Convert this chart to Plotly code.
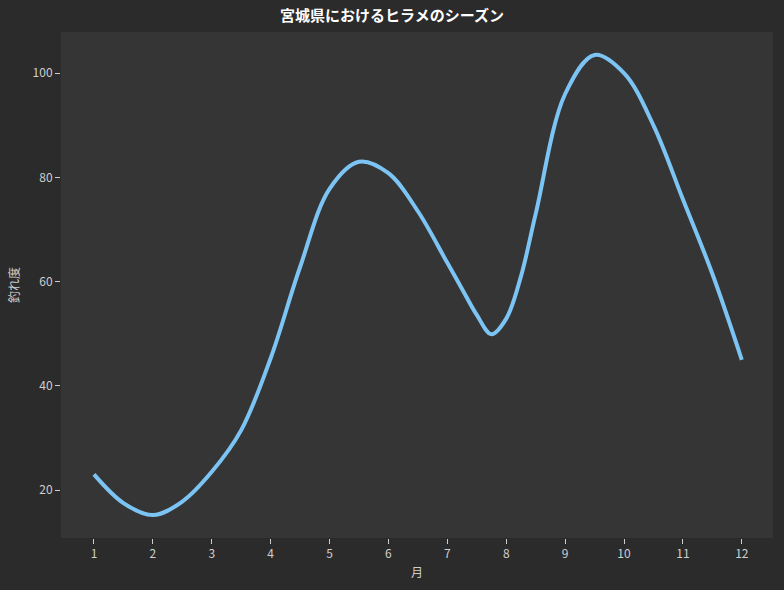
import plotly.graph_objects as go

# tick positions on the x axis
months = [1, 2, 3, 4, 5, 6, 7, 8, 9, 10, 11, 12]

# curve (half-month steps, quarter steps around the dip)
month_pos = [1, 1.5, 2, 2.5, 3, 3.5, 4, 4.5, 5, 5.5, 6, 6.5,
             7, 7.25, 7.5, 7.75, 8, 8.25, 8.5, 9, 9.5, 10, 10.5, 11, 11.5, 12]
catch_index = [23, 17.5, 15.2, 17.8, 23.5, 31.5, 45.3, 62.8, 77.8, 83, 80.8, 73.5,
               63.6, 58.6, 53.6, 49.9, 52.9, 61, 73, 96, 103.5, 100, 90, 75.8, 61.5, 45]

FONT = "Noto Sans CJK JP"
GREY = "#cfcfcf"

fig = go.Figure(
    data=[
        go.Scatter(
            x=month_pos,
            y=catch_index,
            mode="lines",
            line=dict(color="#7cc4f4", width=4, shape="spline", smoothing=1.0),
            hoverinfo="x+y",
        )
    ],
    layout=go.Layout(
        title=dict(
            text="<b>宮城県におけるヒラメのシーズン</b>",
            x=0.5, xanchor="center", y=0.973, yanchor="middle",
            font=dict(family=FONT, size=15, color="#ffffff"),
        ),
        width=784,
        height=590,
        paper_bgcolor="#2b2b2b",
        plot_bgcolor="#353535",
        font=dict(family=FONT, size=12, color=GREY),
        margin=dict(l=61, r=11, t=32, b=52),
        showlegend=False,
        xaxis=dict(
            title=dict(text="月", font=dict(size=12, color=GREY), standoff=8),
            tickmode="array",
            tickvals=months,
            range=[0.44, 12.53],
            showgrid=False,
            zeroline=False,
            ticks="outside",
            ticklen=5,
            tickcolor=GREY,
            tickfont=dict(size=12, color=GREY),
        ),
        yaxis=dict(
            title=dict(text="釣れ度", font=dict(size=12, color=GREY), standoff=10),
            tickvals=[20, 40, 60, 80, 100],
            range=[10.8, 107.9],
            showgrid=False,
            zeroline=False,
            ticks="outside",
            ticklen=5,
            tickcolor=GREY,
            tickfont=dict(size=12, color=GREY),
        ),
    ),
)

fig.write_html(
    "out.html",
    config={"displayModeBar": False},
    post_script="document.body.style.margin='0';document.body.style.background='#2b2b2b';",
)
